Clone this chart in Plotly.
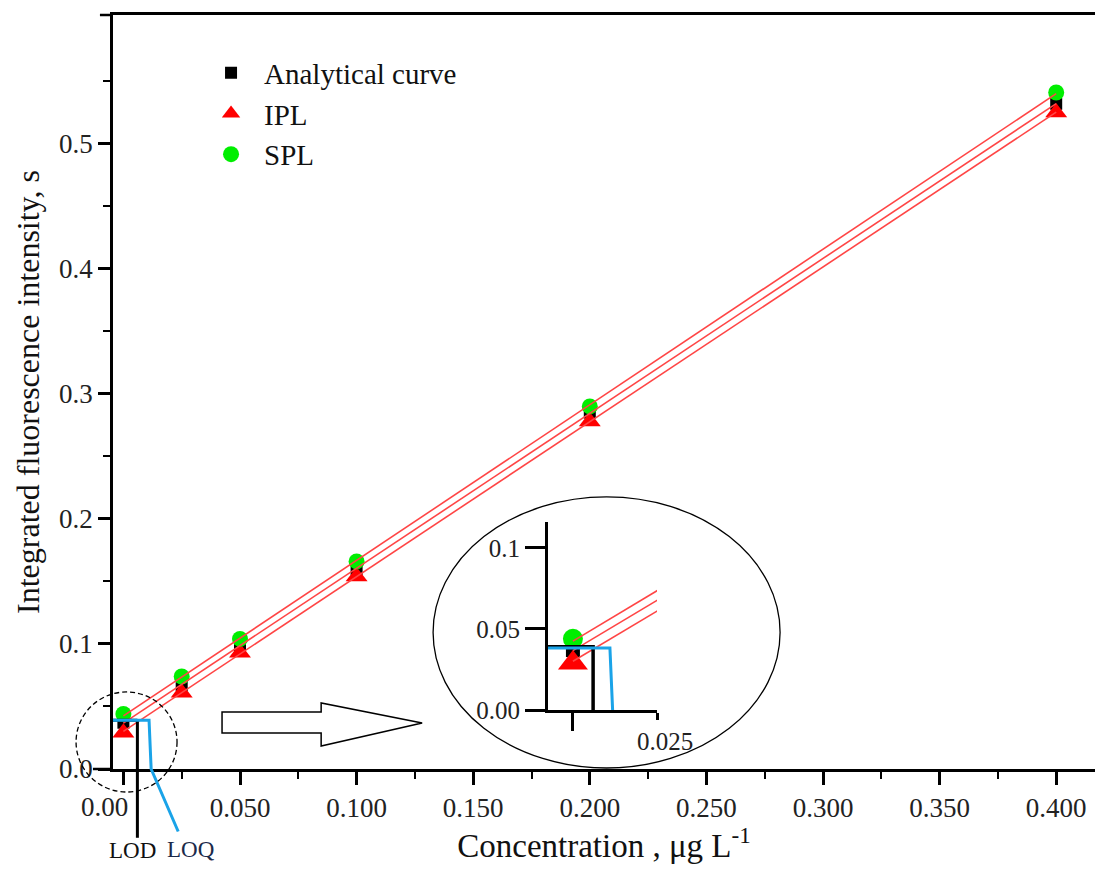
import numpy as np
import plotly.graph_objects as go

# ---------------- data ----------------
conc = [0.0, 0.025, 0.05, 0.1, 0.2, 0.4]
analytical = [0.037, 0.067, 0.099, 0.160, 0.285, 0.532]
ipl = [0.029, 0.061, 0.093, 0.154, 0.278, 0.525]
spl = [0.044, 0.074, 0.104, 0.166, 0.290, 0.541]

x_tickvals = [0.0, 0.05, 0.10, 0.15, 0.20, 0.25, 0.30, 0.35, 0.40]
x_ticktext = ["", "0.050", "0.100", "0.150", "0.200", "0.250", "0.300", "0.350", "0.400"]
x_minor = [0.025, 0.075, 0.125, 0.175, 0.225, 0.275, 0.325, 0.375]
y_tickvals = [0.0, 0.1, 0.2, 0.3, 0.4, 0.5]
y_ticktext = ["0.0", "0.1", "0.2", "0.3", "0.4", "0.5"]
y_minor = [0.05, 0.15, 0.25, 0.35, 0.45, 0.55]

inset_y_tickvals = [0.0, 0.05, 0.1]
inset_y_ticktext = ["0.00", "0.05", "0.1"]
inset_x_tickvals = [0.025]
inset_x_ticktext = ["0.025"]

LOD = 0.006
LOQ = 0.011
LIMIT_SIGNAL = 0.039

X_RANGE = [-0.00446, 0.41664]
Y_RANGE = [0.0, 0.603]
INSET_X_RANGE = [-0.0074, 0.025]
INSET_Y_RANGE = [0.0, 0.116]

FONT = "Liberation Serif, Times New Roman, serif"
RED_LINE = "#ff4545"
BLUE = "#1aa3e8"


def px(x):
    return (x - X_RANGE[0]) / (X_RANGE[1] - X_RANGE[0])


def py(y):
    return (y - Y_RANGE[0]) / (Y_RANGE[1] - Y_RANGE[0])


fig = go.Figure()

series = [
    ("Analytical curve", analytical, "square", "black", 12),
    ("IPL", ipl, "triangle-up", "red", 19),
    ("SPL", spl, "circle", "#00ee00", 16),
]
inset_sizes = {"Analytical curve": 14, "IPL": 26, "SPL": 20}

for name, vals, sym, col, size in series:
    fig.add_trace(go.Scatter(x=conc, y=vals, mode="markers", name=name,
                             marker=dict(symbol=sym, color=col, size=size, line=dict(width=0))))

# fitted lines
xfit = np.array([min(conc), max(conc)])
for name, vals, sym, col, size in series:
    k, b = np.polyfit(conc, vals, 1)
    fig.add_trace(go.Scatter(x=xfit, y=k * xfit + b, mode="lines", showlegend=False,
                             line=dict(color=RED_LINE, width=1.6), hoverinfo="skip"))

# ---------------- inset ----------------
for name, vals, sym, col, size in series:
    fig.add_trace(go.Scatter(x=conc[:1], y=vals[:1], mode="markers", showlegend=False,
                             marker=dict(symbol=sym, color=col, size=inset_sizes[name], line=dict(width=0)),
                             xaxis="x2", yaxis="y2"))
for name, vals, sym, col, size in series:
    k, b = np.polyfit(conc, vals, 1)
    fig.add_trace(go.Scatter(x=xfit, y=k * xfit + b, mode="lines", showlegend=False,
                             line=dict(color=RED_LINE, width=1.6), xaxis="x2", yaxis="y2",
                             hoverinfo="skip"))
fig.add_trace(go.Scatter(x=[INSET_X_RANGE[0], LOD, LOD], y=[LIMIT_SIGNAL, LIMIT_SIGNAL, 0],
                         mode="lines", showlegend=False, line=dict(color="black", width=3.5),
                         xaxis="x2", yaxis="y2"))
fig.add_trace(go.Scatter(x=[INSET_X_RANGE[0], LOQ, LOQ + 0.0008],
                         y=[LIMIT_SIGNAL - 0.0008, LIMIT_SIGNAL - 0.0008, 0],
                         mode="lines", showlegend=False, line=dict(color=BLUE, width=3),
                         xaxis="x2", yaxis="y2"))

# ---------------- shapes ----------------
shapes = []
# LOD black lines (main)
shapes.append(dict(type="line", xref="x", yref="paper", x0=X_RANGE[0], x1=LOD,
                   y0=py(LIMIT_SIGNAL), y1=py(LIMIT_SIGNAL), line=dict(color="black", width=3)))
shapes.append(dict(type="line", xref="x", yref="paper", x0=LOD, x1=LOD,
                   y0=py(LIMIT_SIGNAL), y1=py(-0.055), line=dict(color="black", width=3)))
# LOQ blue lines (main)
shapes.append(dict(type="path", xref="x", yref="paper",
                   path=f"M {X_RANGE[0]},{py(LIMIT_SIGNAL)} L {LOQ},{py(LIMIT_SIGNAL)} "
                        f"L {LOQ + 0.0009},{py(0)} L 0.0235,{py(-0.05)}",
                   line=dict(color=BLUE, width=3)))
# dashed zoom circle (main)
shapes.append(dict(type="circle", xref="paper", yref="paper",
                   x0=px(-0.0203), x1=px(0.023), y0=py(-0.0184), y1=py(0.0616),
                   line=dict(color="black", width=1.3, dash="5px,3px")))
# inset ellipse
shapes.append(dict(type="circle", xref="x", yref="y", x0=0.1328, x1=0.2816, y0=0.0008, y1=0.2176,
                   line=dict(color="black", width=1.3)))
# hollow arrow
shapes.append(dict(type="path", xref="x", yref="y",
                   path="M 0.0423,0.0288 L 0.0848,0.0288 L 0.0848,0.0184 L 0.1281,0.0368 "
                        "L 0.0848,0.0528 L 0.0848,0.0456 L 0.0423,0.0456 Z",
                   line=dict(color="black", width=1.5), fillcolor="rgba(0,0,0,0)"))
# frame overshoot at the left
shapes.append(dict(type="line", xref="paper", yref="paper", x0=-0.0204, x1=0, y0=0, y1=0,
                   line=dict(color="black", width=2.5)))
shapes.append(dict(type="line", xref="paper", yref="paper", x0=-0.0133, x1=0, y0=1, y1=1,
                   line=dict(color="black", width=2.5)))

annotations = [
    dict(text="0.00", xref="paper", yref="paper", x=px(-0.0079), y=py(-0.0304),
         xanchor="center", yanchor="middle",
         showarrow=False, font=dict(size=27, color="#222", family=FONT)),
    dict(text="LOD", xref="paper", yref="paper", x=px(0.0037), y=py(-0.0655),
         xanchor="center", yanchor="middle",
         showarrow=False, font=dict(size=23, color="#111", family=FONT)),
    dict(text="LOQ", xref="paper", yref="paper", x=px(0.029), y=py(-0.0645),
         xanchor="center", yanchor="middle",
         showarrow=False, font=dict(size=23, color="#1b2a4a", family=FONT)),
]

axis_common = dict(showgrid=False, zeroline=False, showline=True, linecolor="black",
                   ticks="outside", tickcolor="black", automargin=False)

fig.update_layout(
    template="none",
    width=1087, height=856,
    margin=dict(l=105, r=0, t=7, b=95, autoexpand=False),
    paper_bgcolor="white", plot_bgcolor="white",
    font=dict(family=FONT, color="#222", size=27),
    showlegend=True,
    legend=dict(x=0.0866, y=0.957, xanchor="left", yanchor="top", bgcolor="rgba(0,0,0,0)",
                font=dict(size=29, color="#111", family=FONT), itemwidth=56),
    xaxis=dict(**axis_common, range=X_RANGE, linewidth=2.5, mirror=True,
               tickmode="array", tickvals=x_tickvals, ticktext=x_ticktext,
               ticklen=13, tickwidth=2.5,
               minor=dict(tickmode="array", tickvals=x_minor, ticks="outside", ticklen=7,
                          tickwidth=2, tickcolor="black"),
               title=dict(text="Concentration , μg L<sup>-1</sup>", font=dict(size=33, color="#111"),
                          standoff=21)),
    yaxis=dict(**axis_common, range=Y_RANGE, linewidth=2.5,
               tickmode="array", tickvals=y_tickvals, ticktext=y_ticktext,
               ticklen=12, tickwidth=2.5,
               minor=dict(tickmode="array", tickvals=y_minor, ticks="outside", ticklen=7,
                          tickwidth=2, tickcolor="black"),
               title=dict(text="Integrated fluorescence intensity, s", font=dict(size=32, color="#111"),
                          standoff=10)),
    xaxis2=dict(**axis_common, domain=[0.443, 0.554], anchor="y2", range=INSET_X_RANGE,
                linewidth=3, tickmode="array", tickvals=inset_x_tickvals, ticktext=inset_x_ticktext,
                ticklen=7, tickwidth=3, tickfont=dict(size=25), ticklabelshift=8,
                minor=dict(tickmode="array", tickvals=[0.0], ticks="outside", ticklen=18,
                           tickwidth=3, tickcolor="black")),
    yaxis2=dict(**axis_common, domain=[0.0782, 0.3276], anchor="x2", range=INSET_Y_RANGE,
                linewidth=3, tickmode="array", tickvals=inset_y_tickvals, ticktext=inset_y_ticktext,
                ticklen=20, tickwidth=3, tickfont=dict(size=25)),
    shapes=shapes,
    annotations=annotations,
)

fig.write_html("out.html")
